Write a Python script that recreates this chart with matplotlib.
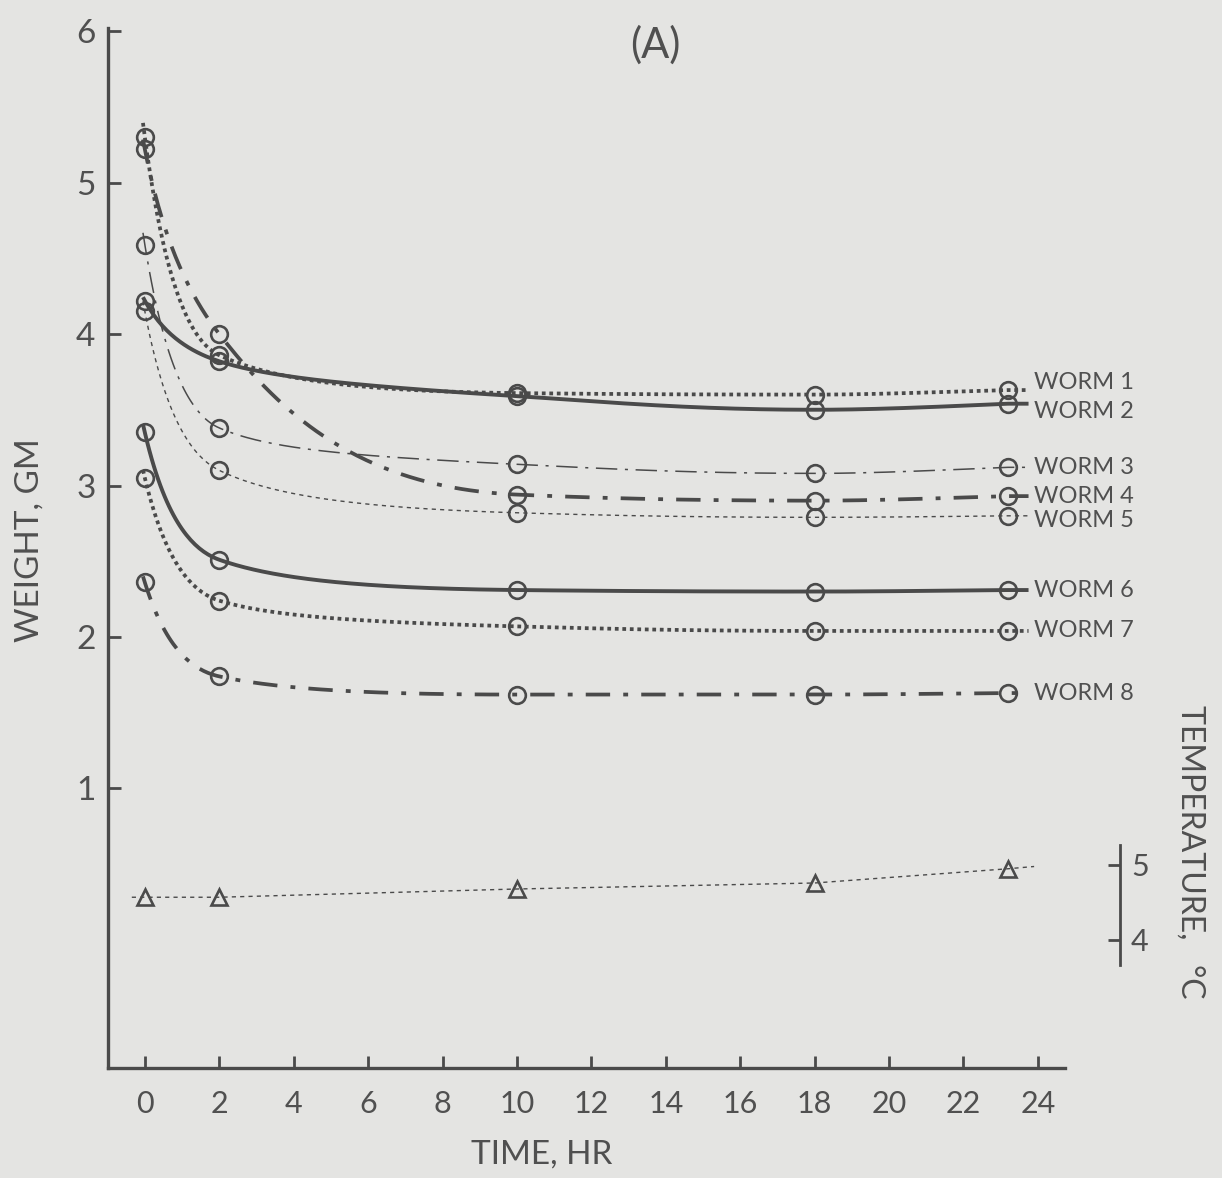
import numpy as np
import matplotlib
matplotlib.use('Agg')
import matplotlib.pyplot as plt

# ---------------- data ----------------
time_hr = [0, 2, 10, 18, 23.2]
worm_names = ['WORM 1', 'WORM 2', 'WORM 3', 'WORM 4', 'WORM 5', 'WORM 6', 'WORM 7', 'WORM 8']
worm1 = [5.30, 3.86, 3.61, 3.60, 3.63]
worm2 = [4.22, 3.82, 3.59, 3.50, 3.54]
worm3 = [4.59, 3.38, 3.14, 3.08, 3.12]
worm4 = [5.22, 4.00, 2.94, 2.90, 2.93]
worm5 = [4.15, 3.10, 2.82, 2.79, 2.80]
worm6 = [3.35, 2.51, 2.31, 2.30, 2.31]
worm7 = [3.05, 2.24, 2.07, 2.04, 2.04]
worm8 = [2.36, 1.74, 1.62, 1.62, 1.63]
temperature_c = [4.57, 4.57, 4.68, 4.76, 4.95]

x_ticks = [0, 2, 4, 6, 8, 10, 12, 14, 16, 18, 20, 22, 24]
y_ticks = [1, 2, 3, 4, 5, 6]
temp_ticks = [4, 5]

# ---------------- styling ----------------
INK = '#4a4a4a'
TXT = '#505050'
BG = '#e4e4e2'
FONT = 'Lato'

worms = [worm1, worm2, worm3, worm4, worm5, worm6, worm7, worm8]
styles = [
    dict(lw=2.7, ls=(0, (1.0, 1.0)), dash_capstyle='butt'),
    dict(lw=2.8, ls='-'),
    dict(lw=1.1, ls=(0, (14, 5, 2, 5))),
    dict(lw=2.7, ls=(0, (6.5, 3.5, 1.3, 3.5))),
    dict(lw=1.0, ls=(0, (3, 3))),
    dict(lw=2.8, ls='-'),
    dict(lw=2.7, ls=(0, (1.0, 1.0)), dash_capstyle='butt'),
    dict(lw=2.7, ls=(0, (6.5, 3.5, 1.3, 3.5))),
]
label_dy = [0.05, -0.05, 0.0, 0.0, -0.03, 0.0, 0.0, 0.0]


def pchip(x, y, xq):
    x = np.asarray(x, float)
    y = np.asarray(y, float)
    h = np.diff(x)
    d = np.diff(y) / h
    n = len(x)
    m = np.zeros(n)
    for k in range(1, n - 1):
        if d[k - 1] * d[k] > 0:
            w1 = 2 * h[k] + h[k - 1]
            w2 = h[k] + 2 * h[k - 1]
            m[k] = (w1 + w2) / (w1 / d[k - 1] + w2 / d[k])

    def endpt(h0, h1, d0, d1):
        mm = ((2 * h0 + h1) * d0 - h0 * d1) / (h0 + h1)
        if np.sign(mm) != np.sign(d0):
            mm = 0.0
        elif np.sign(d0) != np.sign(d1) and abs(mm) > abs(3 * d0):
            mm = 3 * d0
        return mm

    m[0] = endpt(h[0], h[1], d[0], d[1])
    m[-1] = endpt(h[-1], h[-2], d[-1], d[-2])
    xq = np.asarray(xq, float)
    idx = np.clip(np.searchsorted(x, xq) - 1, 0, n - 2)
    t = (xq - x[idx]) / h[idx]
    h00 = 2 * t**3 - 3 * t**2 + 1
    h10 = t**3 - 2 * t**2 + t
    h01 = -2 * t**3 + 3 * t**2
    h11 = t**3 - t**2
    return h00 * y[idx] + h10 * h[idx] * m[idx] + h01 * y[idx + 1] + h11 * h[idx] * m[idx + 1]


def smooth_curve(tt, ww, t_start=-0.05, t_end=23.75):
    u = np.log(np.asarray(tt, float) + 1.0)
    tq = np.linspace(t_start, tt[-1], 400)
    wq = pchip(u, ww, np.log(tq + 1.0))
    tq = np.append(tq, t_end)
    wq = np.append(wq, ww[-1])
    return tq, wq


# ---------------- figure ----------------
fig = plt.figure(figsize=(12.22, 11.78), dpi=100, facecolor=BG)
ax = fig.add_axes([108 / 1222, 1 - 1068 / 1178, (1065 - 108) / 1222, (1068 - 28) / 1178])
ax.set_facecolor(BG)

xlim = (-0.99, 24.73)
ylim = (-0.845, 6.02)
ax.set_xlim(*xlim)
ax.set_ylim(*ylim)

for w, st, name, dy in zip(worms, styles, worm_names, label_dy):
    tq, wq = smooth_curve(time_hr, w)
    ax.plot(tq, wq, color=INK, solid_capstyle='butt', **st)
    ax.plot(time_hr, w, ls='none', marker='o', ms=12, mfc='none', mec=INK, mew=1.9)
    ax.text(23.9, w[-1] + dy, name, fontsize=17, color=TXT, family=FONT,
            ha='left', va='center')

# temperature on its own scale (4 C at weight 0, 1 C = 0.495 weight units)
tax = ax.twinx()
tax.set_ylim(4 + ylim[0] / 0.495, 4 + ylim[1] / 0.495)
t_line = [-0.35] + list(time_hr) + [23.9]
temp_line = [temperature_c[0]] + list(temperature_c) + [temperature_c[-1] + 0.03]
tax.plot(t_line, temp_line, color=INK, lw=1.0, ls=(0, (3, 3)))
tax.plot(time_hr, temperature_c, ls='none', marker='^', ms=12, mfc='none', mec=INK, mew=1.9)

for s in ['top', 'right']:
    ax.spines[s].set_visible(False)
for s in ['left', 'bottom']:
    ax.spines[s].set_linewidth(2.4)
    ax.spines[s].set_color(INK)
for s in ['top', 'left', 'bottom']:
    tax.spines[s].set_visible(False)
tax.spines['right'].set_position(('axes', 1.0575))
tax.spines['right'].set_bounds(3.67, 5.27)
tax.spines['right'].set_linewidth(2.0)
tax.spines['right'].set_color(INK)
tax.set_yticks(temp_ticks)
tax.tick_params(axis='y', direction='in', length=9, width=2.0, color=INK,
                labelsize=22, labelcolor=TXT, pad=8)

ax.set_xticks(x_ticks)
ax.set_yticks(y_ticks)
ax.tick_params(axis='both', direction='in', length=9, width=2.0, color=INK,
               labelsize=22, labelcolor=TXT)
ax.tick_params(axis='x', pad=16)
ax.tick_params(axis='y', pad=9, labelsize=24)
for lab in ax.get_xticklabels() + ax.get_yticklabels() + tax.get_yticklabels():
    lab.set_family(FONT)

fig.text(30 / 1222, 1 - 540 / 1178, 'WEIGHT, GM', rotation=90, fontsize=24,
         color=TXT, family=FONT, ha='center', va='center')
fig.text(542 / 1222, 1 - 1155 / 1178, 'TIME, HR', fontsize=24,
         color=TXT, family=FONT, ha='center', va='center')
fig.text(1190 / 1222, 1 - 852 / 1178, 'TEMPERATURE,   \u00b0C', rotation=270, fontsize=23,
         color=TXT, family=FONT, ha='center', va='center')
fig.text(655 / 1222, 1 - 45 / 1178, '(A)', fontsize=30,
         color=TXT, family=FONT, ha='center', va='center')

fig.savefig('out.png', dpi=100, facecolor=BG)
